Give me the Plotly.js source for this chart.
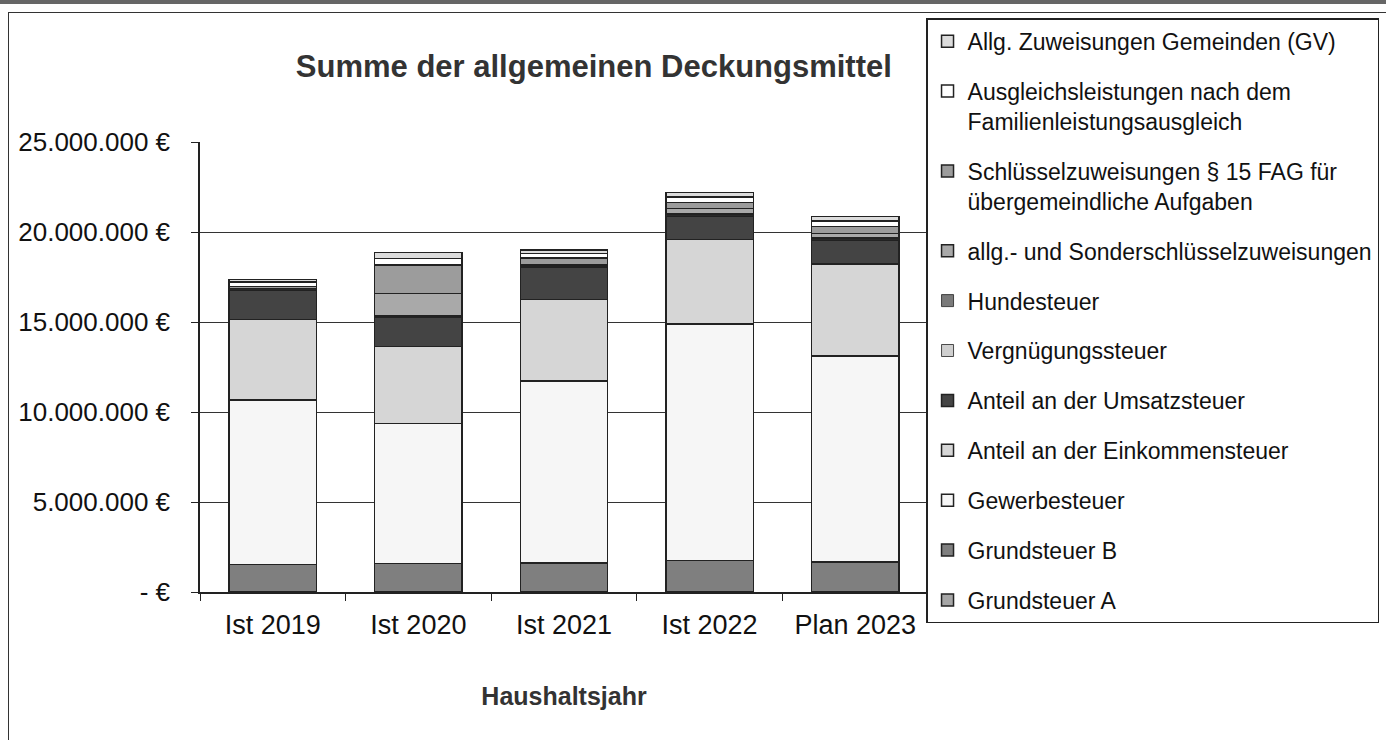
<!DOCTYPE html>
<html>
<head>
<meta charset="utf-8">
<script src="https://cdn.plot.ly/plotly-3.0.1.min.js"></script>
<style>
  html, body { margin: 0; padding: 0; background: #fff; }
  #wrap { position: relative; width: 1386px; height: 740px; overflow: hidden; }
  #chart { position: absolute; left: 0; top: 0; width: 1386px; height: 740px; }
  #frame { position: absolute; left: 8px; top: 12px; width: 1380px; height: 740px;
           border-left: 1.5px solid #333; border-top: 1.5px solid #333; pointer-events: none; }
  #band { position: absolute; left: 0; top: 0; width: 1386px; height: 4px; background: #666; pointer-events: none; }
</style>
</head>
<body>
<div id="wrap">
  <div id="chart"></div>
  <div id="frame"></div>
  <div id="band"></div>
</div>
<script>
// Categories (x axis)
const categories = ['Ist 2019', 'Ist 2020', 'Ist 2021', 'Ist 2022', 'Plan 2023'];

// Series values in EUR (bottom to top of the stack)
const grundsteuerA       = [40000, 40000, 40000, 40000, 40000];
const grundsteuerB       = [1490000, 1530000, 1570000, 1710000, 1620000];
const gewerbesteuer      = [9130000, 7780000, 10110000, 13130000, 11440000];
const einkommensteuer    = [4490000, 4300000, 4530000, 4710000, 5120000];
const umsatzsteuer       = [1620000, 1600000, 1810000, 1290000, 1330000];
const vergnuegungssteuer = [40000, 20000, 40000, 50000, 50000];
const hundesteuer        = [60000, 60000, 70000, 70000, 70000];
const allgSchluessel     = [0, 1250000, 0, 300000, 250000];
const schluessel15       = [100000, 1580000, 380000, 350000, 380000];
const ausgleich          = [250000, 370000, 250000, 300000, 300000];
const allgZuweisungen    = [130000, 320000, 190000, 250000, 250000];

// Series names
const seriesNames = [
  'Grundsteuer A',
  'Grundsteuer B',
  'Gewerbesteuer',
  'Anteil an der Einkommensteuer',
  'Anteil an der Umsatzsteuer',
  'Vergnügungssteuer',
  'Hundesteuer',
  'allg.- und Sonderschlüsselzuweisungen',
  'Schlüsselzuweisungen § 15 FAG für<br>übergemeindliche Aufgaben',
  'Ausgleichsleistungen nach dem<br>Familienleistungsausgleich',
  'Allg. Zuweisungen Gemeinden (GV)'
];
const seriesValues = [grundsteuerA, grundsteuerB, gewerbesteuer, einkommensteuer, umsatzsteuer,
  vergnuegungssteuer, hundesteuer, allgSchluessel, schluessel15, ausgleich, allgZuweisungen];

// Y tick labels
const yTickVals = [0, 5000000, 10000000, 15000000, 20000000, 25000000];
const yTickText = ['- €', '5.000.000 €', '10.000.000 €', '15.000.000 €', '20.000.000 €', '25.000.000 €'];

// Styles (kept separate from data)
const fills = ['#a6a6a6', '#7f7f7f', '#f6f6f6', '#d6d6d6', '#444444', '#cfcfcf',
               '#7a7a7a', '#a9a9a9', '#9c9c9c', '#ffffff', '#dcdcdc'];
const lineW = [1.5, 1.5, 1.5, 1.5, 1.5, 0.8, 0.8, 1.5, 1.5, 1.5, 1.5];

const traces = seriesNames.map((name, i) => ({
  type: 'bar',
  name: name,
  x: categories,
  y: seriesValues[i],
  legendgroup: 'g' + i,
  legendrank: 1000 - i,
  marker: { color: fills[i], line: { color: '#222', width: lineW[i] } },
  hovertemplate: '%{x}<br>' + name + ': %{y:,.0f} €<extra></extra>'
}));

const FONT = 'Liberation Sans, Arial, sans-serif';

const layout = {
  width: 1386,
  height: 740,
  margin: { l: 200, r: 458, t: 142, b: 148, pad: 0, autoexpand: false },
  paper_bgcolor: '#ffffff',
  plot_bgcolor: '#ffffff',
  barmode: 'stack',
  bargap: 0.4,
  font: { family: FONT, color: '#111', size: 23 },
  title: {
    text: '<b>Summe der allgemeinen Deckungsmittel</b>',
    font: { family: FONT, size: 31, color: '#333' },
    xref: 'paper', x: 0.541, xanchor: 'center',
    yref: 'container', y: 0.91, yanchor: 'middle'
  },
  xaxis: {
    type: 'category',
    showline: true, linecolor: '#222', linewidth: 1.5,
    ticks: 'outside', ticklen: 7, tickcolor: '#222', tickson: 'boundaries',
    tickfont: { family: FONT, size: 27, color: '#111' },
    ticklabelstandoff: 8,
    showgrid: false,
    automargin: false,
    title: { text: '<b>Haushaltsjahr</b>', font: { family: FONT, size: 25, color: '#333' }, standoff: 48 }
  },
  yaxis: {
    range: [0, 25000000],
    tickvals: yTickVals,
    ticktext: yTickText,
    showline: true, linecolor: '#222', linewidth: 1.5,
    ticks: 'outside', ticklen: 7, tickcolor: '#222',
    tickfont: { family: FONT, size: 26, color: '#111' },
    ticklabelstandoff: 16,
    showgrid: true, gridcolor: '#333', gridwidth: 1,
    zeroline: false,
    automargin: false
  },
  legend: {
    x: 0.9973, xanchor: 'left', xref: 'paper',
    y: 1.275, yanchor: 'top', yref: 'paper',
    traceorder: 'grouped',
    tracegroupgap: 17,
    valign: 'top',
    maxheight: 720,
    bgcolor: '#ffffff',
    bordercolor: '#222',
    borderwidth: 1.5,
    font: { family: FONT, size: 23, color: '#111' }
  },
  showlegend: true
};

Plotly.newPlot('chart', traces, layout, { displayModeBar: false, staticPlot: false });
</script>
</body>
</html>
